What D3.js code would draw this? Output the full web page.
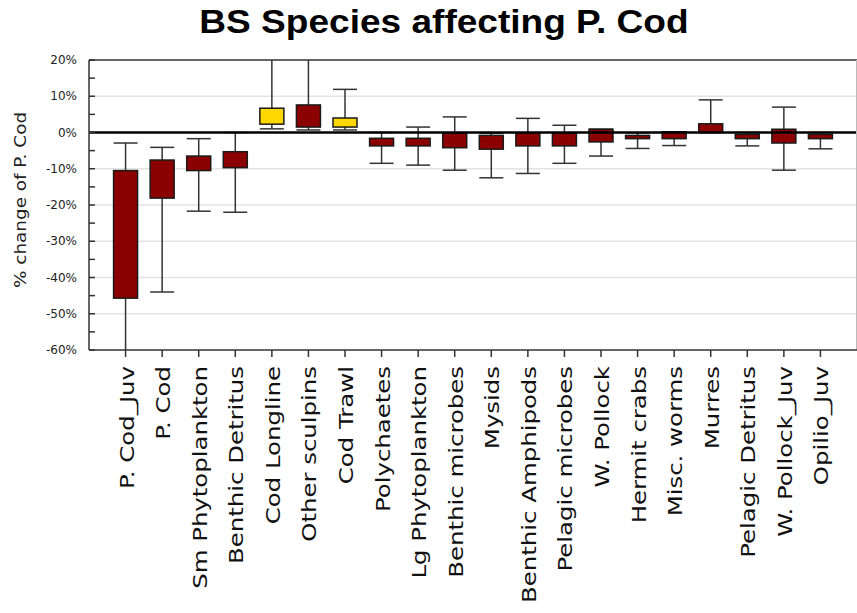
<!DOCTYPE html>
<html>
<head>
<meta charset="utf-8">
<script src="https://cdn.jsdelivr.net/npm/d3@7"></script>
<style>
  html, body { margin: 0; padding: 0; background: #fff; }
  svg { display: block; }
</style>
</head>
<body>
<div id="chart"></div>
<script>
// Groups whose removal changes Pacific cod biomass (percent change)
const categories = [
  "P. Cod_Juv", "P. Cod", "Sm Phytoplankton", "Benthic Detritus", "Cod Longline",
  "Other sculpins", "Cod Trawl", "Polychaetes", "Lg Phytoplankton", "Benthic microbes",
  "Mysids", "Benthic Amphipods", "Pelagic microbes", "W. Pollock", "Hermit crabs",
  "Misc. worms", "Murres", "Pelagic Detritus", "W. Pollock_Juv", "Opilio_Juv"
];
// whisker ends and box edges, in percent
const whiskerLow  = [-68, -44.0, -21.7, -22.0, 1.0, 0.7, 0.7, -8.5, -9.0, -10.4, -12.5, -11.3, -8.5, -6.5, -4.4, -3.6, 0.0, -3.7, -10.4, -4.5];
const boxLow      = [-45.7, -18.1, -10.5, -9.7, 2.3, 1.5, 1.5, -3.7, -3.7, -4.2, -4.6, -3.7, -3.7, -2.6, -1.7, -1.7, 0.0, -1.7, -2.9, -1.7];
const boxHigh     = [-10.5, -7.6, -6.5, -5.3, 6.7, 7.6, 4.0, -1.6, -1.6, -0.2, -0.8, -0.2, -0.2, 0.9, -0.8, 0.2, 2.4, -0.5, 0.9, -0.5];
const whiskerHigh = [-2.9, -4.1, -1.7, 0.0, 28, 30, 11.9, 0.0, 1.5, 4.3, -0.2, 3.9, 2.0, 0.9, -0.1, 0.0, 9.0, 0.0, 7.0, 0.0];
// fleets are drawn in yellow, living groups and detritus in dark red
const groupKind = ["group", "group", "group", "group", "fleet", "group", "fleet", "group", "group", "group",
                   "group", "group", "group", "group", "group", "group", "group", "group", "group", "group"];
const yTickValues = [20, 10, 0, -10, -20, -30, -40, -50, -60];
const yMinorValues = [20, 15, 10, 5, 0, -5, -10, -15, -20, -25, -30, -35, -40, -45, -50, -55, -60];

const W = 857, H = 613;
const plot = { left: 89, right: 857, top: 60, bottom: 350 };

const svg = d3.select("#chart").append("svg")
  .attr("width", W).attr("height", H)
  .style("font-family", "'DejaVu Sans', sans-serif");

const x = d3.scalePoint().domain(categories).range([plot.left, plot.right]).padding(1);
const y = d3.scaleLinear().domain([-60, 20]).range([plot.bottom, plot.top]);
const color = d3.scaleOrdinal().domain(["group", "fleet"]).range(["#8b0000", "#ffd700"]);

const data = categories.map((c, i) => ({
  name: c, wl: whiskerLow[i], bl: boxLow[i], bh: boxHigh[i], wh: whiskerHigh[i], kind: groupKind[i]
}));

svg.append("defs").append("clipPath").attr("id", "plot-clip")
  .append("rect")
  .attr("x", plot.left).attr("y", plot.top)
  .attr("width", plot.right - plot.left).attr("height", plot.bottom - plot.top);

// horizontal grid
svg.append("g").selectAll("line")
  .data(yTickValues.filter(v => v !== 20 && v !== -60 && v !== 0))
  .join("line")
  .attr("x1", plot.left).attr("x2", plot.right)
  .attr("y1", d => y(d)).attr("y2", d => y(d))
  .attr("stroke", "#e3e3e3").attr("stroke-width", 1.5);

// boxes and whiskers
const boxW = 24;
const marks = svg.append("g").attr("clip-path", "url(#plot-clip)");
const g = marks.selectAll("g.box").data(data).join("g").attr("class", "box")
  .attr("transform", d => `translate(${x(d.name)},0)`);

g.append("line")
  .attr("x1", 0).attr("x2", 0)
  .attr("y1", d => y(d.wl)).attr("y2", d => y(d.wh))
  .attr("stroke", "#333").attr("stroke-width", 1.5);
g.append("line")
  .attr("x1", -boxW / 2).attr("x2", boxW / 2)
  .attr("y1", d => y(d.wl)).attr("y2", d => y(d.wl))
  .attr("stroke", "#333").attr("stroke-width", 1.5);
g.append("line")
  .attr("x1", -boxW / 2).attr("x2", boxW / 2)
  .attr("y1", d => y(d.wh)).attr("y2", d => y(d.wh))
  .attr("stroke", "#333").attr("stroke-width", 1.5);
g.append("rect")
  .attr("x", -boxW / 2).attr("width", boxW)
  .attr("y", d => y(d.bh)).attr("height", d => Math.max(0.5, y(d.bl) - y(d.bh)))
  .attr("fill", d => color(d.kind))
  .attr("stroke", "#1a1a1a").attr("stroke-width", 1.5);

// zero reference line
svg.append("line")
  .attr("x1", plot.left).attr("x2", plot.right)
  .attr("y1", y(0)).attr("y2", y(0))
  .attr("stroke", "#000").attr("stroke-width", 2.5);

// frame
svg.append("line").attr("x1", plot.left).attr("x2", plot.right)
  .attr("y1", plot.top).attr("y2", plot.top).attr("stroke", "#333").attr("stroke-width", 1.5);
svg.append("line").attr("x1", plot.right - 0.5).attr("x2", plot.right - 0.5)
  .attr("y1", plot.top).attr("y2", plot.bottom).attr("stroke", "#bbb").attr("stroke-width", 1);

// y axis: ticks point into the plot, every 5%, labelled every 10%
const yAxis = svg.append("g").attr("transform", `translate(${plot.left},0)`);
yAxis.append("line").attr("x1", 0).attr("x2", 0)
  .attr("y1", plot.top).attr("y2", plot.bottom).attr("stroke", "#333").attr("stroke-width", 1.5);
yAxis.selectAll("line.tick").data(yMinorValues).join("line").attr("class", "tick")
  .attr("x1", 0).attr("x2", 6)
  .attr("y1", d => y(d)).attr("y2", d => y(d))
  .attr("stroke", "#333").attr("stroke-width", 1.5);
yAxis.selectAll("text").data(yTickValues).join("text")
  .attr("x", -12).attr("y", d => y(d)).attr("dy", "0.35em")
  .attr("text-anchor", "end")
  .attr("font-size", 12).attr("fill", "#222")
  .text(d => d + "%");

// x axis
const xAxis = svg.append("g").attr("transform", `translate(0,${plot.bottom})`);
xAxis.append("line").attr("x1", plot.left).attr("x2", plot.right)
  .attr("y1", 0).attr("y2", 0).attr("stroke", "#333").attr("stroke-width", 1.5);
xAxis.selectAll("line.tick").data(categories).join("line").attr("class", "tick")
  .attr("x1", d => x(d)).attr("x2", d => x(d))
  .attr("y1", 0).attr("y2", 7)
  .attr("stroke", "#333").attr("stroke-width", 1.5);
xAxis.selectAll("text").data(categories).join("text")
  .attr("transform", d => `translate(${x(d) + 1},16) rotate(-90) scale(1.22,1)`)
  .attr("dy", "0.35em")
  .attr("text-anchor", "end")
  .attr("font-size", 20).attr("fill", "#111")
  .text(d => d);

// y axis title
svg.append("text")
  .attr("transform", `translate(20,200) rotate(-90) scale(1.15,1)`)
  .attr("dy", "0.35em")
  .attr("text-anchor", "middle")
  .attr("font-size", 16).attr("fill", "#222")
  .text("% change of P. Cod");

// chart title
svg.append("text")
  .attr("transform", `translate(444,33) scale(1.09,1)`)
  .attr("text-anchor", "middle")
  .style("font-family", "'Liberation Sans', Arial, sans-serif")
  .attr("font-size", 34).attr("font-weight", "bold").attr("fill", "#000")
  .text("BS Species affecting P. Cod");
</script>
</body>
</html>
